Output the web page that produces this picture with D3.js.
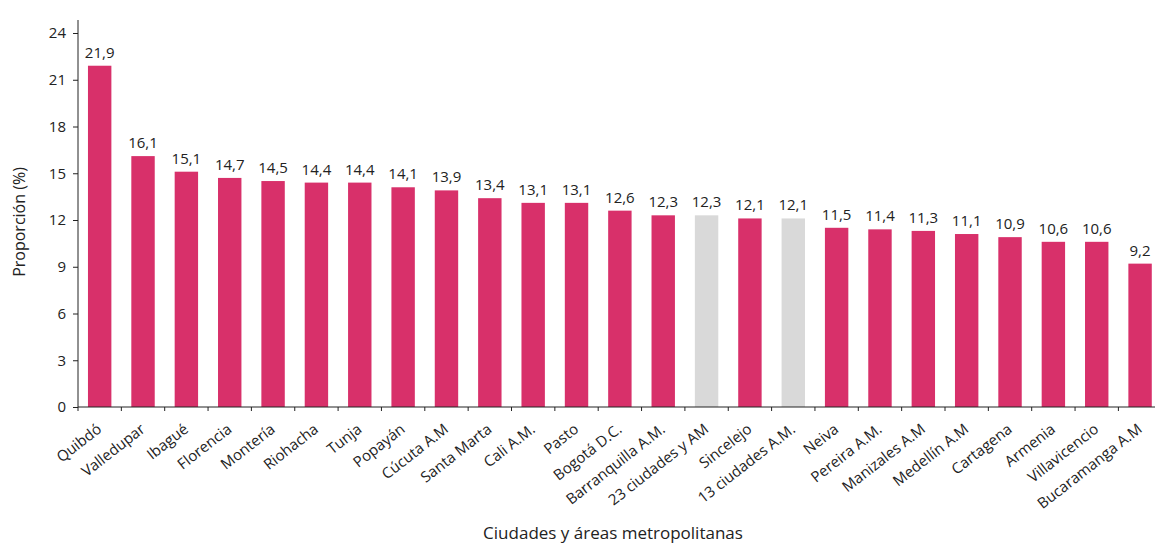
<!DOCTYPE html>
<html>
<head>
    <meta charset="utf-8">
    <title>Proporción por ciudades</title>
    <script src="https://cdn.jsdelivr.net/npm/d3@7"></script>
</head>

<style>
    body{
        margin:0;
        background-color: #ffffff;
        font-family: 'Open Sans', sans-serif;
    }
    .axis text { font-family: 'Open Sans', sans-serif; font-size: 15px; fill: #222; }
    .axis path, .axis line { stroke: #222; }
</style>

<body>
<div id="chart"></div>

<script>
    // data
    var cities = ["Quibdó", "Valledupar", "Ibagué", "Florencia", "Montería", "Riohacha", "Tunja",
        "Popayán", "Cúcuta A.M", "Santa Marta", "Cali A.M.", "Pasto", "Bogotá D.C.",
        "Barranquilla A.M.", "23 ciudades y AM", "Sincelejo", "13 ciudades A.M.", "Neiva",
        "Pereira A.M.", "Manizales A.M", "Medellín A.M", "Cartagena", "Armenia",
        "Villavicencio", "Bucaramanga A.M"];
    var values = [21.9, 16.1, 15.1, 14.7, 14.5, 14.4, 14.4, 14.1, 13.9, 13.4, 13.1, 13.1, 12.6,
        12.3, 12.3, 12.1, 12.1, 11.5, 11.4, 11.3, 11.1, 10.9, 10.6, 10.6, 9.2];
    var totals = ["23 ciudades y AM", "13 ciudades A.M."];   // drawn in grey
    var yTicks = [0, 3, 6, 9, 12, 15, 18, 21, 24];

    var width = 1155, height = 546;
    var margin = {top: 33, left: 78, bottom: 139};

    var data = cities.map(function(c, i) { return {city: c, value: values[i]}; });

    var svg = d3.select("#chart").append("svg")
        .attr("width", width)
        .attr("height", height);

    var xScale = d3.scaleBand()
        .domain(cities)
        .range([margin.left, margin.left + 25 * 43.35])
        .paddingInner(0.46)
        .paddingOuter(0.23);

    var yScale = d3.scaleLinear()
        .domain([0, 24])
        .range([height - margin.bottom, margin.top]);

    // bars
    svg.selectAll(".bar")
        .data(data)
        .enter().append("rect")
        .attr("class", "bar")
        .attr("x", function(d) { return xScale(d.city); })
        .attr("width", xScale.bandwidth())
        .attr("y", function(d) { return yScale(d.value); })
        .attr("height", function(d) { return yScale(0) - yScale(d.value); })
        .style("fill", function(d) { return totals.indexOf(d.city) >= 0 ? "#d9d9d9" : "#d8306a"; });

    // value labels, comma decimals
    svg.selectAll(".val")
        .data(data)
        .enter().append("text")
        .attr("class", "val")
        .attr("x", function(d) { return xScale(d.city) + xScale.bandwidth() / 2; })
        .attr("y", function(d) { return yScale(d.value) - 8; })
        .attr("text-anchor", "middle")
        .style("font-size", "15px")
        .style("fill", "#222")
        .text(function(d) { return d.value.toFixed(1).replace(".", ","); });

    // y axis
    var yAxis = svg.append("g")
        .attr("class", "axis")
        .attr("transform", "translate(" + margin.left + ",0)")
        .call(d3.axisLeft(yScale).tickValues(yTicks).tickSize(5).tickPadding(7).tickSizeOuter(0));
    yAxis.select(".domain").remove();
    yAxis.append("line")
        .attr("y1", yScale(0))
        .attr("y2", yScale(24) - 13)
        .style("stroke", "#222");

    // x axis: ticks between bands
    var step = xScale.step();
    var x0 = margin.left;
    svg.append("line")
        .attr("x1", x0).attr("x2", width)
        .attr("y1", yScale(0)).attr("y2", yScale(0))
        .style("stroke", "#222");
    svg.selectAll(".xtick")
        .data(cities)
        .enter().append("line")
        .attr("class", "xtick")
        .attr("x1", function(d, i) { return x0 + i * step; })
        .attr("x2", function(d, i) { return x0 + i * step; })
        .attr("y1", yScale(0))
        .attr("y2", yScale(0) + 4)
        .style("stroke", "#222");

    // city labels, rotated
    svg.selectAll(".xlab")
        .data(cities)
        .enter().append("text")
        .attr("class", "xlab")
        .attr("text-anchor", "end")
        .attr("transform", function(d) {
            return "translate(" + (xScale(d) + xScale.bandwidth() / 2 + 3) + "," + (yScale(0) + 24) + ") rotate(-38)";
        })
        .style("font-size", "15px")
        .style("fill", "#222")
        .text(function(d) { return d; });

    // axis titles
    svg.append("text")
        .attr("transform", "translate(25," + 222 + ") rotate(-90)")
        .attr("text-anchor", "middle")
        .style("font-size", "16px")
        .style("fill", "#222")
        .text("Proporción (%)");

    svg.append("text")
        .attr("x", 613)
        .attr("y", 539)
        .attr("text-anchor", "middle")
        .style("font-size", "17px")
        .style("fill", "#222")
        .text("Ciudades y áreas metropolitanas");
</script>
</body>
</html>
